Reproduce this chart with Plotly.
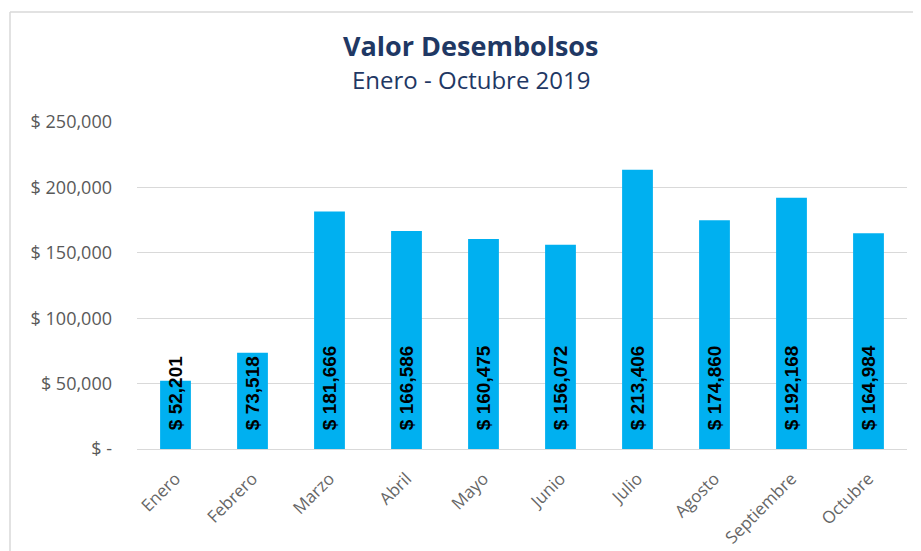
import plotly.graph_objects as go

months = ["Enero", "Febrero", "Marzo", "Abril", "Mayo", "Junio", "Julio",
          "Agosto", "Septiembre", "Octubre"]
values = [52201, 73518, 181666, 166586, 160475, 156072, 213406, 174860, 192168, 164984]
tick_vals = [0, 50000, 100000, 150000, 200000, 250000]
tick_text = ["$ -", "$ 50,000", "$ 100,000", "$ 150,000", "$ 200,000", "$ 250,000"]
labels = ["\u00a0\u00a0\u00a0$ {:,}".format(v) for v in values]

OFF = 8  # page body margin
W, H = 921 - OFF, 551 - OFF
ml, mr, mt, mb = 137 - OFF, 14, 122 - OFF, 102

fig = go.Figure(go.Bar(
    x=months, y=values, text=labels,
    textposition="inside", insidetextanchor="start", textangle=-90,
    constraintext="none", cliponaxis=False,
    textfont=dict(family="Liberation Sans Narrow, Arial Narrow, Liberation Sans", size=19, color="black", weight="bold"),
    marker=dict(color="#00B0F0", line=dict(width=0)),
    hoverinfo="skip",
))

def px_x(p):
    return (p - OFF - ml) / (W - ml - mr)

def px_y(p):
    return (H - mb - (p - OFF)) / (H - mt - mb)

fig.update_layout(
    width=W, height=H,
    margin=dict(l=ml, r=mr, t=mt, b=mb),
    paper_bgcolor="white", plot_bgcolor="white",
    bargap=0.6,
    showlegend=False,
    font=dict(family="Open Sans, Liberation Sans", color="#595959"),
    xaxis=dict(showgrid=False, showline=True, linecolor="#D9D9D9", linewidth=1,
               tickangle=-45, ticks="", ticklabelstandoff=12, automargin=False,
               tickfont=dict(size=17, color="#666666",
               family="Open Sans, Liberation Sans"), fixedrange=True),
    yaxis=dict(range=[0, 250000], tickvals=tick_vals, ticktext=tick_text,
               showgrid=True, gridcolor="#D9D9D9", gridwidth=1, zeroline=False,
               ticks="", ticklabelstandoff=24, automargin=False,
               tickfont=dict(size=18, color="#595959",
               family="Open Sans, Liberation Sans"), fixedrange=True),
    annotations=[
        dict(text="<b>Valor Desembolsos</b>", xref="paper", yref="paper",
             x=px_x(471), y=px_y(46), xanchor="center", yanchor="middle",
             showarrow=False, font=dict(size=27, color="#1F3864",
             family="Open Sans, Liberation Sans")),
        dict(text="Enero - Octubre 2019", xref="paper", yref="paper",
             x=px_x(471), y=px_y(79), xanchor="center", yanchor="middle",
             showarrow=False, font=dict(size=24, color="#1F3864",
             family="Open Sans, Liberation Sans")),
    ],
    shapes=[
        dict(type="line", xref="paper", yref="paper", x0=px_x(10), x1=px_x(930),
             y0=px_y(12), y1=px_y(12), line=dict(color="#D9D9D9", width=1.5)),
        dict(type="line", xref="paper", yref="paper", x0=px_x(10), x1=px_x(10),
             y0=px_y(12), y1=px_y(560), line=dict(color="#D9D9D9", width=1.5)),
    ],
)

fig.write_html("out.html")
